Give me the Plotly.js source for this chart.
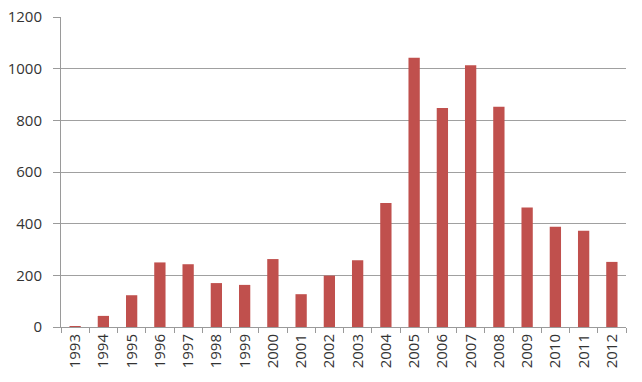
<!DOCTYPE html>
<html>
<head>
<meta charset="utf-8">
<script src="https://cdn.plot.ly/plotly-3.0.1.min.js"></script>
<style>html,body{margin:0;padding:0;background:#fff;}#chart{width:642px;height:382px;}</style>
</head>
<body>
<div id="chart"></div>
<script>
const years = ["1993","1994","1995","1996","1997","1998","1999","2000","2001","2002","2003","2004","2005","2006","2007","2008","2009","2010","2011","2012"];
const values = [4, 43, 123, 250, 243, 170, 163, 263, 127, 199, 258, 480, 1042, 848, 1013, 853, 463, 388, 373, 252];
const yTicks = [0, 200, 400, 600, 800, 1000, 1200];

Plotly.newPlot('chart', [{
  type: 'bar',
  x: years,
  y: values,
  marker: {color: '#C0504D', line: {width: 0}},
  hoverinfo: 'x+y'
}], {
  width: 642, height: 382,
  margin: {l: 61, r: 16, t: 17, b: 55},
  paper_bgcolor: '#fff', plot_bgcolor: '#fff',
  bargap: 0.6,
  showlegend: false,
  font: {family: 'Open Sans, sans-serif', color: '#333333'},
  xaxis: {
    type: 'category',
    tickangle: -90,
    tickfont: {size: 15, color: '#333333'},
    showline: true, linecolor: '#9a9a9a', linewidth: 1,
    ticks: 'outside', tickson: 'boundaries', ticklen: 5, tickcolor: '#9a9a9a',
    showgrid: false,
    zeroline: false,
    automargin: false
  },
  yaxis: {
    range: [0, 1200],
    tickvals: yTicks,
    ticktext: yTicks.map(String),
    tickfont: {size: 15, color: '#333333'},
    showline: true, linecolor: '#9a9a9a', linewidth: 1,
    ticks: 'outside', ticklen: 7, tickcolor: '#9a9a9a',
    showgrid: true, gridcolor: '#a0a0a0', gridwidth: 1,
    zeroline: false,
    ticklabelstandoff: 8,
    automargin: false
  }
}, {displayModeBar: false, staticPlot: true});
</script>
</body>
</html>
